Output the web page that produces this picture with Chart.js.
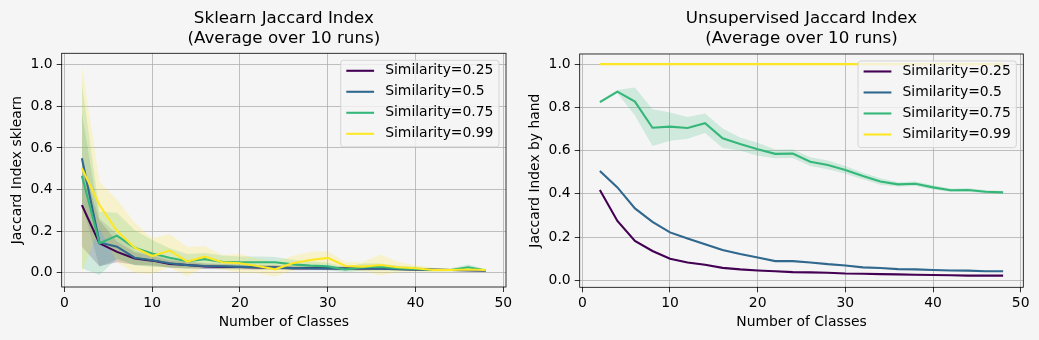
<!DOCTYPE html>
<html>
<head>
<meta charset="utf-8">
<script src="https://cdn.jsdelivr.net/npm/chart.js@4.4.1/dist/chart.umd.min.js"></script>
<style>
  body { margin: 0; background: #f5f5f5; }
  #wrap { position: relative; width: 1039px; height: 340px; background: #f5f5f5; }
  canvas { position: absolute; top: 0; }
  #left { left: 0; }
  #right { left: 519px; }
</style>
</head>
<body>
<div id="wrap">
  <canvas id="left" width="568" height="340"></canvas>
  <canvas id="right" width="520" height="340"></canvas>
</div>
<script>
// nombre de classes (axe x, commun aux deux graphiques)
const classes = [2, 4, 6, 8, 10, 12, 14, 16, 18, 20, 22, 24, 26, 28, 30, 32, 34, 36, 38, 40, 42, 44, 46, 48];
const simLabels = ['Similarity=0.25', 'Similarity=0.5', 'Similarity=0.75', 'Similarity=0.99'];
const simColors = ['#440154', '#31688e', '#35b779', '#fde725'];
const simFills = ['rgba(68,1,84,0.2)', 'rgba(49,104,142,0.2)', 'rgba(53,183,121,0.2)', 'rgba(253,231,37,0.2)'];

// Sklearn Jaccard (moyenne et écart-type)
const sk25 = [0.325, 0.141, 0.100, 0.068, 0.058, 0.042, 0.037, 0.030, 0.028, 0.027, 0.025, 0.025, 0.022, 0.022, 0.022, 0.020, 0.020, 0.020, 0.018, 0.016, 0.014, 0.013, 0.012, 0.011];
const sk25Std = [0.200, 0.110, 0.050, 0.030, 0.022, 0.018, 0.015, 0.013, 0.012, 0.011, 0.010, 0.010, 0.009, 0.009, 0.009, 0.008, 0.008, 0.008, 0.007, 0.006, 0.005, 0.005, 0.005, 0.004];
const sk50 = [0.550, 0.145, 0.125, 0.072, 0.060, 0.045, 0.036, 0.032, 0.030, 0.028, 0.026, 0.024, 0.022, 0.021, 0.020, 0.020, 0.020, 0.019, 0.017, 0.016, 0.014, 0.013, 0.012, 0.010];
const sk50Std = [0.220, 0.115, 0.060, 0.035, 0.028, 0.022, 0.018, 0.015, 0.013, 0.012, 0.011, 0.010, 0.010, 0.009, 0.009, 0.008, 0.008, 0.008, 0.007, 0.006, 0.005, 0.005, 0.005, 0.004];
const sk75 = [0.466, 0.141, 0.178, 0.120, 0.092, 0.072, 0.055, 0.065, 0.052, 0.050, 0.050, 0.050, 0.040, 0.034, 0.030, 0.015, 0.026, 0.029, 0.021, 0.018, 0.013, 0.013, 0.026, 0.010];
const sk75Std = [0.445, 0.152, 0.110, 0.085, 0.065, 0.045, 0.035, 0.030, 0.030, 0.028, 0.028, 0.025, 0.022, 0.020, 0.018, 0.012, 0.018, 0.015, 0.012, 0.010, 0.008, 0.008, 0.013, 0.006];
const sk99 = [0.502, 0.325, 0.200, 0.120, 0.080, 0.106, 0.053, 0.077, 0.050, 0.045, 0.032, 0.016, 0.045, 0.061, 0.071, 0.032, 0.029, 0.037, 0.026, 0.021, 0.013, 0.013, 0.015, 0.013];
const sk99Std = [0.496, 0.112, 0.150, 0.120, 0.085, 0.080, 0.070, 0.050, 0.035, 0.045, 0.035, 0.035, 0.035, 0.040, 0.032, 0.020, 0.022, 0.050, 0.025, 0.015, 0.010, 0.008, 0.008, 0.007];

// Jaccard "à la main"
const h25 = [0.418, 0.275, 0.182, 0.136, 0.100, 0.083, 0.072, 0.058, 0.051, 0.046, 0.042, 0.038, 0.037, 0.035, 0.032, 0.031, 0.029, 0.028, 0.026, 0.025, 0.024, 0.022, 0.022, 0.022];
const h25Std = [0.004, 0.004, 0.004, 0.003, 0.003, 0.003, 0.003, 0.003, 0.003, 0.003, 0.003, 0.003, 0.002, 0.002, 0.002, 0.002, 0.002, 0.002, 0.002, 0.002, 0.002, 0.002, 0.002, 0.002];
const h50 = [0.506, 0.430, 0.333, 0.271, 0.222, 0.194, 0.167, 0.140, 0.122, 0.106, 0.089, 0.089, 0.083, 0.075, 0.069, 0.060, 0.057, 0.052, 0.051, 0.048, 0.046, 0.045, 0.042, 0.042];
const h50Std = [0.004, 0.004, 0.004, 0.004, 0.004, 0.004, 0.004, 0.004, 0.003, 0.003, 0.003, 0.003, 0.003, 0.003, 0.003, 0.003, 0.003, 0.003, 0.003, 0.003, 0.003, 0.003, 0.003, 0.003];
const h75 = [0.824, 0.873, 0.827, 0.706, 0.711, 0.705, 0.727, 0.657, 0.631, 0.606, 0.585, 0.586, 0.549, 0.534, 0.511, 0.483, 0.457, 0.444, 0.447, 0.430, 0.417, 0.418, 0.410, 0.407];
const h75Std = [0.005, 0.008, 0.065, 0.085, 0.065, 0.050, 0.045, 0.045, 0.030, 0.030, 0.020, 0.020, 0.020, 0.020, 0.018, 0.015, 0.015, 0.010, 0.010, 0.010, 0.008, 0.008, 0.008, 0.006];
const h99 = [1, 1, 1, 1, 1, 1, 1, 1, 1, 1, 1, 1, 1, 1, 1, 1, 1, 1, 1, 1, 1, 1, 1, 1];
const h99Std = [0, 0, 0, 0, 0, 0, 0, 0, 0, 0, 0, 0, 0, 0, 0, 0, 0, 0, 0, 0, 0, 0, 0, 0];

const xTicks = [0, 10, 20, 30, 40, 50];
const yTicks = [0.0, 0.2, 0.4, 0.6, 0.8, 1.0];

const FONT = '"DejaVu Sans", sans-serif';
const tickFont = { family: FONT, size: 13.9 };

// bandes (moyenne ± écart-type) sous toutes les lignes
function buildDatasets(means, stds) {
    const ds = [];
    means.forEach((m, s) => {
        const rank = 10 * (4 - s);
        ds.push({
            data: classes.map((x, i) => ({ x: x, y: m[i] - stds[s][i] })),
            borderWidth: 0, pointRadius: 0, fill: false, order: 100 + rank + 2
        });
        ds.push({
            data: classes.map((x, i) => ({ x: x, y: m[i] + stds[s][i] })),
            borderWidth: 0, pointRadius: 0, fill: '-1', backgroundColor: simFills[s], order: 100 + rank + 1
        });
        ds.push({
            label: simLabels[s], inLegend: true,
            data: classes.map((x, i) => ({ x: x, y: m[i] })),
            borderColor: simColors[s], borderWidth: 2.1, pointRadius: 0, fill: false, order: rank
        });
    });
    return ds;
}

// cadre noir + légende façon matplotlib (dessinée au-dessus des courbes)
const frameLegend = {
    id: 'frameLegend',
    afterDatasetsDraw(chart) {
        const { ctx, chartArea: a } = chart;
        ctx.save();
        ctx.strokeStyle = '#000';
        ctx.lineWidth = 0.8;
        ctx.strokeRect(a.left, a.top, a.right - a.left, a.bottom - a.top);

        const items = chart.data.datasets.filter(d => d.inLegend);
        ctx.font = '13.9px ' + FONT;
        const textW = Math.max(...items.map(d => ctx.measureText(d.label).width));
        const pad = 5.56, handle = 27.8, gap = 11.1, pitch = 21;
        const w = pad * 2 + handle + gap + textW;
        const h = 86.6;
        const bx = a.right - 7 - w, by = a.top + 7;
        ctx.beginPath();
        ctx.roundRect(bx, by, w, h, 2.8);
        ctx.fillStyle = 'rgba(245,245,245,0.8)';
        ctx.fill();
        ctx.strokeStyle = 'rgba(204,204,204,0.8)';
        ctx.lineWidth = 1;
        ctx.stroke();

        items.forEach((d, i) => {
            const cy = by + 10.5 + i * pitch;
            ctx.beginPath();
            ctx.moveTo(bx + pad, cy);
            ctx.lineTo(bx + pad + handle, cy);
            ctx.strokeStyle = d.borderColor;
            ctx.lineWidth = 2.1;
            ctx.stroke();
            ctx.fillStyle = '#000';
            ctx.textBaseline = 'middle';
            ctx.textAlign = 'left';
            ctx.fillText(d.label, bx + pad + handle + gap, cy);
        });
        ctx.restore();
    }
};

function makeChart(id, title, yTitle, datasets, opt) {
    return new Chart(document.getElementById(id), {
        type: 'line',
        data: { datasets: datasets },
        plugins: [frameLegend],
        options: {
            responsive: false,
            animation: false,
            devicePixelRatio: 1,
            layout: { padding: { top: 0, left: 0, right: opt.padRight, bottom: 0 } },
            elements: { line: { tension: 0 } },
            plugins: {
                legend: { display: false },
                tooltip: { enabled: false },
                title: {
                    display: true, fullSize: false, text: title, color: '#000',
                    font: { family: FONT, size: 16.7, weight: 'normal', lineHeight: 1.2 },
                    padding: { top: 8.7, bottom: opt.titleBottom }
                }
            },
            scales: {
                x: {
                    type: 'linear', min: -0.3, max: 50.3,
                    afterFit: s => { s.height = opt.xHeight; },
                    afterBuildTicks: s => { s.ticks = xTicks.map(v => ({ value: v })); },
                    ticks: { color: '#000', font: tickFont, padding: 3, maxRotation: 0, includeBounds: false },
                    grid: { color: '#b0b0b0', lineWidth: 0.8, tickColor: '#000', tickLength: 5, tickWidth: 0.8 },
                    border: { display: false },
                    title: { display: true, text: 'Number of Classes', color: '#000', font: tickFont, padding: { top: 0, bottom: 9.4 } }
                },
                y: {
                    type: 'linear', min: opt.yMin, max: opt.yMax,
                    afterFit: s => { s.width = opt.yWidth; },
                    afterBuildTicks: s => { s.ticks = yTicks.map(v => ({ value: v })); },
                    ticks: { color: '#000', font: tickFont, padding: 4, callback: v => v.toFixed(1) },
                    grid: { color: '#b0b0b0', lineWidth: 0.8, tickColor: '#000', tickLength: 5, tickWidth: 0.8 },
                    border: { display: false },
                    title: { display: true, text: yTitle, color: '#000', font: tickFont, padding: { top: opt.yTitlePad, bottom: 0 } }
                }
            }
        }
    });
}

makeChart('left', ['Sklearn Jaccard Index', '(Average over 10 runs)'], 'Jaccard Index sklearn',
    buildDatasets([sk25, sk50, sk75, sk99], [sk25Std, sk50Std, sk75Std, sk99Std]),
    { padRight: 62, titleBottom: 4.5, xHeight: 53, yWidth: 61.7, yMin: -0.069, yMax: 1.055, yTitlePad: 8.7 });

makeChart('right', ['Unsupervised Jaccard Index', '(Average over 10 runs)'], 'Jaccard Index by hand',
    buildDatasets([h25, h50, h75, h99], [h25Std, h50Std, h75Std, h99Std]),
    { padRight: 15.7, titleBottom: 5.2, xHeight: 52.7, yWidth: 60.7, yMin: -0.032, yMax: 1.047, yTitlePad: 7.7 });
</script>
</body>
</html>
